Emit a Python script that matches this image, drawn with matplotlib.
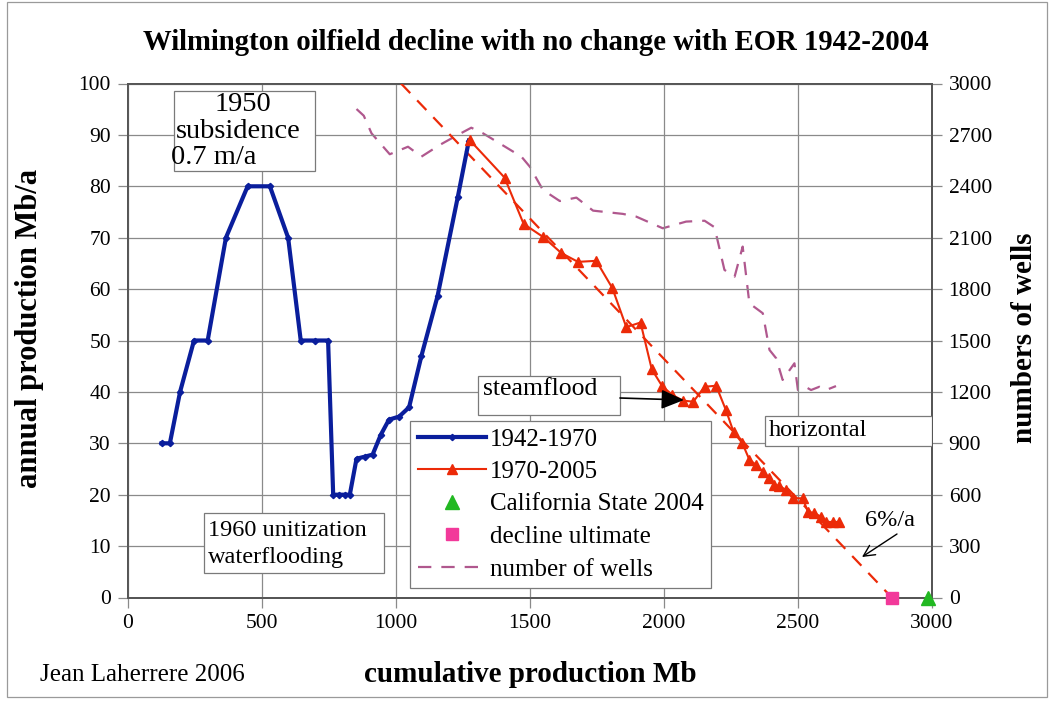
import matplotlib
matplotlib.use("Agg")
import matplotlib.pyplot as plt
from matplotlib.patches import Rectangle
from matplotlib.lines import Line2D

plt.rcParams['font.family'] = ['Liberation Serif', 'DejaVu Serif']

# ---- data ----
blue_cum = [127, 158, 196, 248, 299, 367, 448, 531, 599, 646, 699, 748,
            767, 789, 810, 829, 854, 885, 914, 944, 975, 1013, 1050, 1096,
            1156, 1232, 1273]
blue_prod = [30, 30, 40, 50, 50, 70, 80, 80, 70, 50, 50, 50,
             20, 20, 20, 20, 27, 27.4, 27.8, 31.6, 34.6, 35.2, 37, 47,
             58.6, 78, 88.9]

red_cum = [1276, 1406, 1477, 1551, 1618, 1680, 1748, 1808, 1860, 1913,
           1955, 1994, 2032, 2071, 2110, 2152, 2195, 2232, 2260, 2293,
           2319, 2344, 2369, 2394, 2412, 2431, 2456, 2481, 2518, 2537,
           2561, 2587, 2605, 2630, 2655]
red_prod = [89.0, 81.7, 72.7, 70.1, 67.0, 65.3, 65.5, 60.2, 52.6, 53.5,
            44.4, 41.1, 39.4, 38.3, 38.1, 41.0, 41.2, 36.4, 32.2, 30.0,
            26.8, 25.8, 24.5, 23.2, 21.9, 21.7, 20.9, 19.3, 19.3, 16.7,
            16.4, 15.7, 14.7, 14.7, 14.7]

wells_cum = [854, 881, 910, 978, 1046, 1096, 1164, 1220, 1282, 1326, 1469,
             1500, 1549, 1612, 1674, 1736, 1847, 1897, 1996, 2083, 2152,
             2189, 2226, 2264, 2294, 2319, 2369, 2394, 2419, 2443, 2487,
             2500, 2531, 2549, 2580, 2605, 2642]
wells_n = [2851, 2812, 2709, 2587, 2631, 2573, 2641, 2690, 2742, 2709, 2573,
           2515, 2379, 2314, 2334, 2258, 2239, 2223, 2155, 2194, 2199,
           2161, 1912, 1873, 2048, 1717, 1659, 1445, 1396, 1270, 1367,
           1211, 1227, 1211, 1230, 1211, 1234]

decline_cum = [1020, 2850]
decline_prod = [100, 0]

calif_cum = [2985]
calif_prod = [0]
ultimate_cum = [2850]
ultimate_prod = [0]

x_ticks = [0, 500, 1000, 1500, 2000, 2500, 3000]
y_ticks = list(range(0, 101, 10))
y2_ticks = list(range(0, 3001, 300))

BLUE = '#0A1E9C'
RED = '#EC2A08'
PURPLE = '#B0588E'
GREEN = '#22B822'
PINK = '#F2399A'
GRID = '#8a8a8a'

W, H = 1054, 706
fig = plt.figure(figsize=(W / 100, H / 100), dpi=100)
fig.patch.set_facecolor('white')

L, R, T, B = 127.5, 932, 83.5, 597.5
ax = fig.add_axes([L / W, 1 - B / H, (R - L) / W, (B - T) / H])
ax2 = ax.twinx()

ax.set_xlim(0, 3000)
ax.set_ylim(0, 100)
ax2.set_ylim(0, 3000)
ax.set_xticks(x_ticks)
ax.set_yticks(y_ticks)
ax2.set_yticks(y2_ticks)
ax.grid(True, color=GRID, lw=0.9)
ax.set_axisbelow(True)

tick_fs = 15.5
ax.tick_params(axis='both', direction='out', length=7, width=0.9, color=GRID,
               labelsize=tick_fs, pad=5)
ax2.tick_params(axis='y', direction='out', length=7, width=0.9, color=GRID,
                labelsize=tick_fs, pad=5)
for a in (ax, ax2):
    for s in a.spines.values():
        s.set_color('#555555')
        s.set_linewidth(1.3)

# decline line
ax.plot(decline_cum, decline_prod, color=RED, lw=1.6, dashes=(6, 4.5), zorder=3)
# wells
ax2.plot(wells_cum, wells_n, color=PURPLE, lw=1.6, dashes=(6, 4.5), zorder=3)
# series
ax.plot(blue_cum, blue_prod, color=BLUE, lw=3.0, marker='D', ms=3.2,
        zorder=4)
ax.plot(red_cum, red_prod, color=RED, lw=1.5, marker='^', ms=7, zorder=5)
ax.plot(calif_cum, calif_prod, ls='none', marker='^', ms=10, color=GREEN,
        clip_on=False, zorder=6)
ax.plot(ultimate_cum, ultimate_prod, ls='none', marker='s', ms=9, color=PINK,
        clip_on=False, zorder=6)

ax.set_zorder(ax2.get_zorder() + 1)
ax.patch.set_visible(False)

# coordinate helpers (pixel -> data)
def dx(px):
    return (px - L) / (R - L) * 3000

def dy(py):
    return (B - py) / (B - T) * 100

txt_fs = 17.5
big_fs = 20.5
box_kw = dict(fc='white', ec='#7a7a7a', lw=0.9, zorder=7)

def box(x0, y0, x1, y1):
    ax.add_patch(Rectangle((dx(x0), dy(y1)), dx(x1) - dx(x0), dy(y0) - dy(y1),
                           **box_kw))

# 1950 subsidence
box(174, 91, 315, 171)
ax.text(dx(243), dy(104), '1950', ha='center', va='center', fontsize=big_fs,
        zorder=8)
ax.text(dx(176), dy(131), 'subsidence', ha='left', va='center',
        fontsize=big_fs, zorder=8)
ax.text(dx(171), dy(157), '0.7 m/a', ha='left', va='center', fontsize=big_fs,
        zorder=8)

# 1960 unitization
box(204, 513, 384, 573)
ax.text(dx(208), dy(530), '1960 unitization', ha='left', va='center',
        fontsize=txt_fs, zorder=8)
ax.text(dx(208), dy(558), 'waterflooding', ha='left', va='center',
        fontsize=txt_fs, zorder=8)

# steamflood
box(478, 376, 620, 415)
ax.text(dx(483), dy(389), 'steamflood', ha='left', va='center',
        fontsize=18.5, zorder=8)
ax.annotate('', xy=(dx(684), dy(400)), xytext=(dx(620), dy(398)),
            arrowprops=dict(arrowstyle='-|>,head_length=1.4,head_width=0.6',
                            color='black', lw=1.2, shrinkA=0, shrinkB=0),
            zorder=9)

# horizontal
box(765, 416, 932, 446)
ax.text(dx(769), dy(430), 'horizontal', ha='left', va='center',
        fontsize=txt_fs, zorder=8)

# 6%/a
ax.text(dx(890), dy(521), '6%/a', ha='center', va='center', fontsize=txt_fs,
        zorder=8)
ax.annotate('', xy=(dx(862), dy(557)), xytext=(dx(897), dy(534)),
            arrowprops=dict(arrowstyle='->,head_length=0.8,head_width=0.4',
                            color='black', lw=1.0, shrinkA=0, shrinkB=0),
            zorder=9)

# legend
handles = [
    Line2D([], [], color=BLUE, lw=3.0, marker='D', ms=3.2),
    Line2D([], [], color=RED, lw=1.5, marker='^', ms=7),
    Line2D([], [], color=GREEN, ls='none', marker='^', ms=10),
    Line2D([], [], color=PINK, ls='none', marker='s', ms=9),
    Line2D([], [], color=PURPLE, lw=1.6, dashes=(6, 4.5)),
]
labels = ['1942-1970', '1970-2005', 'California State 2004',
          'decline ultimate', 'number of wells']
leg = ax.legend(handles, labels, loc='lower left',
                bbox_to_anchor=((410 - L) / (R - L), (B - 588) / (B - T)),
                fontsize=18, frameon=True, fancybox=False,
                edgecolor='#7a7a7a', framealpha=1, handlelength=2.75,
                handletextpad=0.15, labelspacing=0.4, borderpad=0.3,
                borderaxespad=0)
leg.get_frame().set_linewidth(0.9)
leg.set_zorder(10)

# labels
fig.text(536 / W, 1 - 42 / H,
         'Wilmington oilfield decline with no change with EOR 1942-2004',
         ha='center', va='center', fontsize=20.7, fontweight='bold')
fig.text(30 / W, 1 - 328 / H, 'annual production Mb/a', rotation=90,
         ha='center', va='center', fontsize=22, fontweight='bold')
fig.text(1025 / W, 1 - 338 / H, 'numbers of wells', rotation=90,
         ha='center', va='center', fontsize=21, fontweight='bold')
fig.text(530 / W, 1 - 674 / H, 'cumulative production Mb', ha='center',
         va='center', fontsize=21, fontweight='bold')
fig.text(40 / W, 1 - 675 / H, 'Jean Laherrere 2006', ha='left',
         va='center', fontsize=18)

# figure frame
fig.add_artist(Rectangle((7 / W, 1 - 697 / H), (1047 - 7) / W, (697 - 2) / H,
                         transform=fig.transFigure, fill=False,
                         ec='#9a9a9a', lw=0.9))

fig.savefig('out.png', dpi=100)
